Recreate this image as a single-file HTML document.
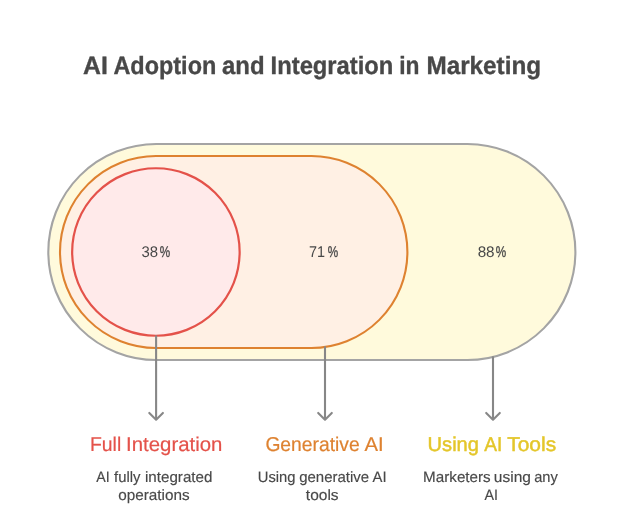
<!DOCTYPE html>
<html><head><meta charset="utf-8">
<style>
html,body{margin:0;padding:0;background:#fff;}
body{width:624px;height:515px;overflow:hidden;}
svg{display:block;}
text{font-family:"Liberation Sans",sans-serif;text-rendering:geometricPrecision;}
</style></head><body>
<svg width="624" height="515" viewBox="0 0 624 515">
<rect width="624" height="515" fill="#fff"/>
<g font-size="25" font-weight="bold" fill="#484848" stroke="#484848" stroke-width="0.35">
<text><tspan x="83.05" y="74" textLength="24.81" lengthAdjust="spacingAndGlyphs">AI</tspan> <tspan x="113.44" y="74" textLength="102.84" lengthAdjust="spacingAndGlyphs">Adoption</tspan> <tspan x="222.09" y="74" textLength="42.51" lengthAdjust="spacingAndGlyphs">and</tspan> <tspan x="270.61" y="74" textLength="122.74" lengthAdjust="spacingAndGlyphs">Integration</tspan> <tspan x="399.19" y="74" textLength="20.27" lengthAdjust="spacingAndGlyphs">in</tspan> <tspan x="426.49" y="74" textLength="114.58" lengthAdjust="spacingAndGlyphs">Marketing</tspan></text>
</g>
<rect x="48.3" y="144" width="527.1" height="216" rx="108" ry="108" fill="#fffadc" stroke="#a4a4a4" stroke-width="2.1"/>
<rect x="60" y="156" width="347.4" height="192" rx="96" ry="96" fill="#fff0e4" stroke="#de8230" stroke-width="2.1"/>
<circle cx="155.9" cy="252" r="83.75" fill="#ffeaea" stroke="#e4524a" stroke-width="2.2"/>
<g stroke="#878787" stroke-width="2.1" fill="none" stroke-linejoin="round">
<path d="M156.1 335.5V419.7"/><path stroke-linecap="round" d="M149.3 412.9L156.1 419.7L162.9 412.9"/>
<path d="M325 346.4V419.7"/><path stroke-linecap="round" d="M318.2 412.9L325 419.7L331.8 412.9"/>
<path d="M493 356.4V419.7"/><path stroke-linecap="round" d="M486.2 412.9L493 419.7L499.8 412.9"/>
</g>
<g font-size="15.5" fill="#484848">
<text><tspan x="141.50" y="256.85" textLength="16.57" lengthAdjust="spacingAndGlyphs">38</tspan><tspan x="159.78" y="256.85" textLength="10.43" lengthAdjust="spacingAndGlyphs" stroke="#484848" stroke-width="0.3">%</tspan></text>
<text><tspan x="308.96" y="256.85" textLength="16.02" lengthAdjust="spacingAndGlyphs">71</tspan><tspan x="327.78" y="256.85" textLength="10.44" lengthAdjust="spacingAndGlyphs" stroke="#484848" stroke-width="0.3">%</tspan></text>
<text><tspan x="477.64" y="256.85" textLength="16.96" lengthAdjust="spacingAndGlyphs">88</tspan><tspan x="495.81" y="256.85" textLength="10.44" lengthAdjust="spacingAndGlyphs" stroke="#484848" stroke-width="0.3">%</tspan></text>
</g>
<g font-size="20">
<text fill="#e4524a" stroke="#e4524a" stroke-width="0.2"><tspan x="89.96" y="451" textLength="31.28" lengthAdjust="spacingAndGlyphs">Full</tspan> <tspan x="126.10" y="451" textLength="96.24" lengthAdjust="spacingAndGlyphs">Integration</tspan></text>
<text fill="#de8230" stroke="#de8230" stroke-width="0.2"><tspan x="265.38" y="451" textLength="94.26" lengthAdjust="spacingAndGlyphs">Generative</tspan> <tspan x="364.60" y="451" textLength="19.16" lengthAdjust="spacingAndGlyphs">AI</tspan></text>
<text fill="#e4c62a" stroke="#e4c62a" stroke-width="0.45"><tspan x="427.64" y="451" textLength="51.32" lengthAdjust="spacingAndGlyphs">Using</tspan> <tspan x="484.37" y="451" textLength="18.08" lengthAdjust="spacingAndGlyphs">AI</tspan> <tspan x="507.21" y="451" textLength="48.92" lengthAdjust="spacingAndGlyphs">Tools</tspan></text>
</g>
<g font-size="15" fill="#484848" stroke="#484848" stroke-width="0.15">
<text><tspan x="96.22" y="481.7" textLength="13.41" lengthAdjust="spacingAndGlyphs">AI</tspan> <tspan x="114.10" y="481.7" textLength="26.39" lengthAdjust="spacingAndGlyphs">fully</tspan> <tspan x="145.00" y="481.7" textLength="67.36" lengthAdjust="spacingAndGlyphs">integrated</tspan> <tspan x="118.25" y="499.6" textLength="71.45" lengthAdjust="spacingAndGlyphs">operations</tspan></text>
<text><tspan x="257.74" y="481.7" textLength="37.79" lengthAdjust="spacingAndGlyphs">Using</tspan> <tspan x="299.21" y="481.7" textLength="69.94" lengthAdjust="spacingAndGlyphs">generative</tspan> <tspan x="372.61" y="481.7" textLength="14.08" lengthAdjust="spacingAndGlyphs">AI</tspan> <tspan x="305.83" y="499.6" textLength="32.77" lengthAdjust="spacingAndGlyphs">tools</tspan></text>
<text><tspan x="423.14" y="481.7" textLength="67.59" lengthAdjust="spacingAndGlyphs">Marketers</tspan> <tspan x="493.88" y="481.7" textLength="37.07" lengthAdjust="spacingAndGlyphs">using</tspan> <tspan x="534.18" y="481.7" textLength="23.59" lengthAdjust="spacingAndGlyphs">any</tspan> <tspan x="484.53" y="499.6" textLength="13.51" lengthAdjust="spacingAndGlyphs">AI</tspan></text>
</g>
</svg>
</body></html>
